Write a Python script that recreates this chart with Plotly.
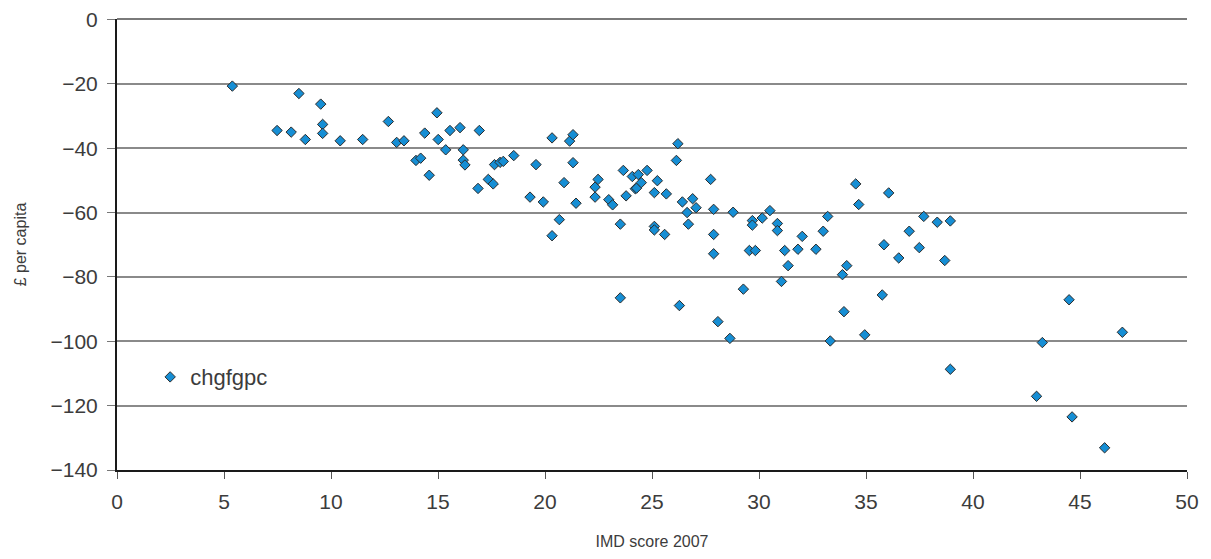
import plotly.graph_objects as go

imd = [5.39, 7.48, 8.14, 8.50, 8.80, 9.52, 9.61, 9.61, 10.43, 11.48,
       12.68, 13.07, 13.41, 13.97, 14.19, 14.38, 14.59, 14.95, 15.01, 15.36,
       15.56, 16.03, 16.18, 16.18, 16.26, 16.87, 16.93, 17.35, 17.58, 17.64,
       17.90, 18.05, 18.54, 19.30, 19.58, 19.92, 20.33, 20.33, 20.67, 20.89,
       21.15, 21.31, 21.31, 21.45, 22.34, 22.34, 22.48, 22.98, 23.16, 23.52,
       23.52, 23.66, 23.79, 24.08, 24.22, 24.28, 24.36, 24.50, 24.77, 25.11,
       25.11, 25.11, 25.25, 25.59, 25.67, 26.14, 26.21, 26.28, 26.42, 26.64,
       26.70, 26.90, 27.06, 27.74, 27.88, 27.88, 27.88, 28.08, 28.64, 28.79,
       29.27, 29.55, 29.83, 29.69, 29.69, 30.15, 30.51, 30.86, 30.86, 31.05,
       31.20, 31.36, 31.82, 32.02, 32.66, 33.00, 33.21, 33.33, 33.90, 33.97,
       34.10, 34.52, 34.66, 34.94, 35.76, 35.84, 36.06, 36.53, 37.02, 37.49,
       37.70, 38.33, 38.68, 38.94, 38.94, 42.97, 43.24, 44.49, 44.63, 46.15,
       46.98]
chgfgpc = [-20.7, -34.5, -35.0, -23.0, -37.3, -26.3, -32.6, -35.4, -37.7, -37.3,
           -31.7, -38.2, -37.7, -43.8, -43.1, -35.3, -48.4, -29.0, -37.3, -40.5,
           -34.5, -33.6, -40.5, -43.7, -45.2, -52.5, -34.5, -49.7, -51.1, -45.1,
           -44.4, -44.1, -42.3, -55.2, -45.1, -56.7, -36.8, -67.2, -62.2, -50.7,
           -37.8, -35.8, -44.5, -57.1, -55.2, -52.1, -49.7, -56.0, -57.6, -63.6,
           -86.5, -46.9, -54.8, -48.8, -52.6, -52.4, -48.2, -50.7, -46.9, -53.8,
           -64.3, -65.4, -50.1, -66.8, -54.2, -43.8, -38.6, -88.9, -56.7, -60.0,
           -63.6, -55.7, -58.5, -49.7, -59.0, -66.8, -72.8, -93.9, -99.1, -59.9,
           -83.8, -71.8, -71.8, -62.5, -63.9, -61.7, -59.4, -63.4, -65.6, -81.4,
           -71.8, -76.5, -71.4, -67.4, -71.4, -65.8, -61.2, -99.9, -79.3, -90.8,
           -76.5, -51.1, -57.5, -98.0, -85.6, -70.0, -53.9, -74.1, -65.8, -70.9,
           -61.2, -63.0, -74.9, -62.6, -108.7, -117.1, -100.4, -87.1, -123.5, -133.1,
           -97.2]

x_ticks = [0, 5, 10, 15, 20, 25, 30, 35, 40, 45, 50]
y_ticks = [0, -20, -40, -60, -80, -100, -120, -140]
y_ticklabels = ["0", "\u221220", "\u221240", "\u221260", "\u221280", "\u2212100", "\u2212120", "\u2212140"]

font_family = "Liberation Sans"
text_color = "#3c3c3c"

fig = go.Figure()
fig.add_trace(go.Scatter(
    x=imd, y=chgfgpc, mode="markers", name="chgfgpc",
    marker=dict(symbol="diamond", size=8, color="#168ed4",
                line=dict(color="#2b2b2b", width=1)),
))

# page body has an 8px margin, so the figure is sized to fit inside the window
fig.update_layout(
    width=1195, height=543,
    margin=dict(l=109, r=16, t=11, b=81),
    paper_bgcolor="white", plot_bgcolor="white",
    font=dict(family=font_family, color=text_color, size=21),
    showlegend=True,
    legend=dict(x=0.031, y=0.206, xanchor="left", yanchor="middle",
                bgcolor="rgba(0,0,0,0)", font=dict(size=22, color=text_color)),
    xaxis=dict(
        range=[0, 50], tickvals=x_ticks, ticktext=[str(v) for v in x_ticks],
        showgrid=False, zeroline=False,
        showline=True, linecolor="#1a1a1a", linewidth=2,
        ticks="outside", ticklen=7, tickcolor="#555", tickwidth=1,
        ticklabelstandoff=5, ticklabeloverflow="allow",
        tickfont=dict(size=21, color=text_color),
        title=dict(text="IMD score 2007", font=dict(size=16, color=text_color), standoff=24),
        automargin=False,
    ),
    yaxis=dict(
        range=[-140, 0.15], tickvals=y_ticks, ticktext=y_ticklabels,
        showgrid=True, gridcolor="#8a8a8a", gridwidth=1.5,
        zeroline=True, zerolinecolor="#7a7a7a", zerolinewidth=1.5,
        showline=True, linecolor="#1a1a1a", linewidth=2,
        ticks="outside", ticklen=8, tickcolor="#777", tickwidth=1,
        ticklabelstandoff=5, ticklabeloverflow="allow",
        tickfont=dict(size=21, color=text_color),
        title=dict(text="\u00a3 per capita", font=dict(size=16, color=text_color), standoff=20),
        automargin=False,
    ),
)

fig.write_html("out.html")
